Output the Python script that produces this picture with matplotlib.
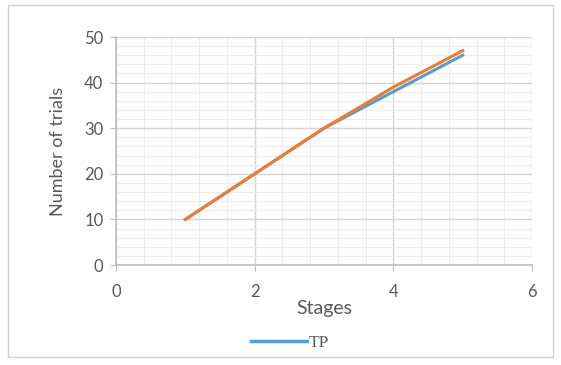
import matplotlib
matplotlib.use("Agg")
import matplotlib.pyplot as plt
from matplotlib.patches import Rectangle
from matplotlib.lines import Line2D
from matplotlib.ticker import MultipleLocator

stages = [1, 2, 3, 4, 5]
tp = [10, 20, 30, 38, 46]
second = [10, 20, 30, 39, 47]
x_ticks = [0, 2, 4, 6]
y_ticks = [0, 10, 20, 30, 40, 50]

fig = plt.figure(figsize=(5.61, 3.65), dpi=100)
fig.patches.append(Rectangle((8/561, 1-357/365), 545/561, 352/365, transform=fig.transFigure,
                             fill=False, edgecolor="#d0d0d0", linewidth=1.0))
ax = fig.add_axes([116/561, 1-265/365, 416/561, 228/365])
ax.set_xlim(0, 6)
ax.set_ylim(0, 50)
ax.set_xticks(x_ticks)
ax.set_yticks(y_ticks)
ax.xaxis.set_minor_locator(MultipleLocator(0.4))
ax.yaxis.set_minor_locator(MultipleLocator(2))
ax.grid(which="major", color="#d4d4d4", linewidth=1.0)
ax.grid(which="minor", color="#ececec", linewidth=0.8)
ax.set_axisbelow(True)
for s in ["top", "right"]:
    ax.spines[s].set_visible(False)
for s in ["left", "bottom"]:
    ax.spines[s].set_color("#bfbfbf")
    ax.spines[s].set_linewidth(1.2)
ax.tick_params(which="major", length=4, color="#bfbfbf", labelcolor="#595959", labelsize=12)
ax.tick_params(axis="x", which="major", pad=10)
ax.tick_params(axis="y", which="major", pad=5)
ax.tick_params(which="minor", length=0)
for lab in ax.get_xticklabels() + ax.get_yticklabels():
    lab.set_fontfamily("Lato")

ax.plot(stages, tp, color="#5b9bd5", linewidth=2.2)
ax.plot(stages, second, color="#ed7d31", linewidth=2.2)

ax.set_xlabel("Stages", fontsize=14, color="#595959", family="Lato", labelpad=0)
ax.set_ylabel("Number of trials", fontsize=13, color="#595959", family="Lato", labelpad=13)

handle = Line2D([0], [0], color="#5b9bd5", linewidth=2.5)
fig.legend([handle], ["TP"], loc="center", bbox_to_anchor=(290/561, 1-343/365), frameon=False,
           prop={"family": "Liberation Serif", "size": 12.5}, handlelength=3.2, handletextpad=0.1,
           labelcolor="#595959")

fig.savefig("out.png", dpi=100)
